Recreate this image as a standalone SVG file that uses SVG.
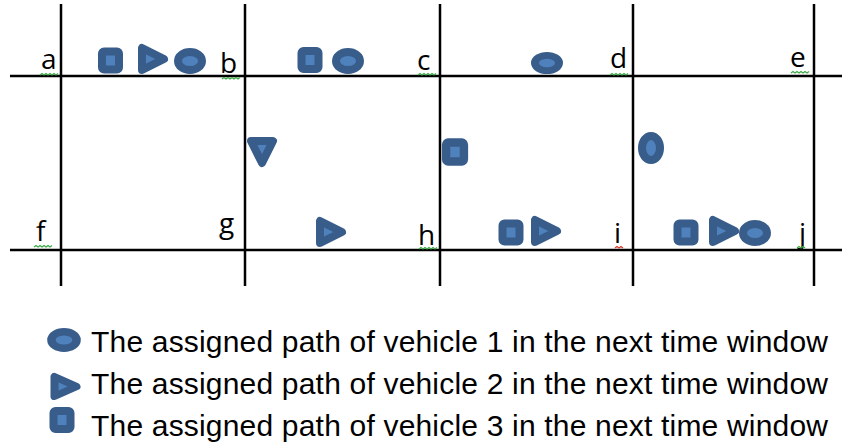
<svg xmlns="http://www.w3.org/2000/svg" xmlns:xlink="http://www.w3.org/1999/xlink" width="846" height="444" viewBox="0 0 846 444">
<style>
.grid{stroke:#000;stroke-width:2.5;fill:none}
.lbl{font-family:"Open Sans","Liberation Sans",sans-serif;font-size:28px;fill:#000}
.leg{font-family:"Liberation Sans",Arial,sans-serif;font-size:30px;fill:#000}
.shp{fill:#4F81BD;stroke:#385D8A;stroke-width:8;stroke-linejoin:round}
.sq{fill:none;stroke:#3CA846;stroke-width:1.2}
.sqr{fill:none;stroke:#D23A2A;stroke-width:1.2}
</style>
<defs>
<rect id="sq" class="shp" x="-8.5" y="-9" width="17" height="18" rx="2"/>
<path id="tri" class="shp" d="M-11,-11 L-11,11 L11,0 Z"/>
<ellipse id="ell" class="shp" cx="0" cy="0" rx="12" ry="9"/>
<path id="zz" d="M0,0 l2,-1.5 2,1.5 2,-1.5 2,1.5 2,-1.5 2,1.5 2,-1.5 2,1.5 2,-1.5"/>
</defs>
<rect width="846" height="444" fill="#fff"/>
<g id="grid">
<line class="grid" x1="10" y1="76" x2="842" y2="76"/>
<line class="grid" x1="10" y1="250" x2="842" y2="250"/>
<line class="grid" x1="61" y1="4" x2="61" y2="286"/>
<line class="grid" x1="245" y1="4" x2="245" y2="286"/>
<line class="grid" x1="440" y1="4" x2="440" y2="286"/>
<line class="grid" x1="633" y1="4" x2="633" y2="286"/>
<line class="grid" x1="814" y1="4" x2="814" y2="286"/>
</g>
<g id="labels">
<text class="lbl" x="41" y="69">a</text>
<text class="lbl" x="220" y="73">b</text>
<text class="lbl" x="417" y="70">c</text>
<text class="lbl" x="610" y="68">d</text>
<text class="lbl" x="790" y="67">e</text>
<text class="lbl" x="36" y="241">f</text>
<text class="lbl" x="219" y="233">g</text>
<text class="lbl" x="418" y="245">h</text>
<text class="lbl" x="614" y="243">i</text>
<text class="lbl" x="799" y="243">j</text>
</g>
<g id="squiggles">
<use xlink:href="#zz" class="sq" x="40" y="75"/>
<use xlink:href="#zz" class="sq" x="222" y="79"/>
<use xlink:href="#zz" class="sq" x="418" y="75"/>
<use xlink:href="#zz" class="sq" x="610" y="75"/>
<use xlink:href="#zz" class="sq" x="791" y="73"/>
<use xlink:href="#zz" class="sq" x="34" y="247"/>
<use xlink:href="#zz" class="sq" x="419" y="249"/>
<path class="sqr" d="M615,248 l2,-1.5 2,1.5 2,-1.5 2,1.5"/>
<path class="sq" d="M797,248 l2,-1.5 2,1.5 2,-1.5 2,1.5"/>
</g>
<g id="paths">
<use xlink:href="#sq" transform="translate(110.5,60.5)"/>
<use xlink:href="#tri" transform="translate(153,59)"/>
<use xlink:href="#ell" transform="translate(190,61)"/>
<use xlink:href="#sq" transform="translate(310,60)"/>
<use xlink:href="#ell" transform="translate(348,61)"/>
<use xlink:href="#ell" transform="translate(547,63) scale(1,0.85)"/>
<use xlink:href="#tri" transform="translate(262,152) rotate(90)"/>
<use xlink:href="#sq" transform="translate(455,152) scale(1.05)"/>
<use xlink:href="#ell" transform="translate(651,148) rotate(90)"/>
<use xlink:href="#tri" transform="translate(331,232)"/>
<use xlink:href="#sq" transform="translate(511,232.5)"/>
<use xlink:href="#tri" transform="translate(546,231)"/>
<use xlink:href="#sq" transform="translate(686,232.5)"/>
<use xlink:href="#tri" transform="translate(724,231)"/>
<use xlink:href="#ell" transform="translate(755,233)"/>
</g>
<g id="legend">
<use xlink:href="#ell" transform="translate(64,340) scale(1.05,0.92)"/>
<use xlink:href="#tri" transform="translate(65.5,386.5) scale(1,0.9)"/>
<use xlink:href="#sq" transform="translate(62,420)"/>
<text class="leg" x="91" y="352" textLength="737" lengthAdjust="spacing">The assigned path of vehicle 1 in the next time window</text>
<text class="leg" x="91" y="394" textLength="737" lengthAdjust="spacing">The assigned path of vehicle 2 in the next time window</text>
<text class="leg" x="91" y="436" textLength="737" lengthAdjust="spacing">The assigned path of vehicle 3 in the next time window</text>
</g>
</svg>
